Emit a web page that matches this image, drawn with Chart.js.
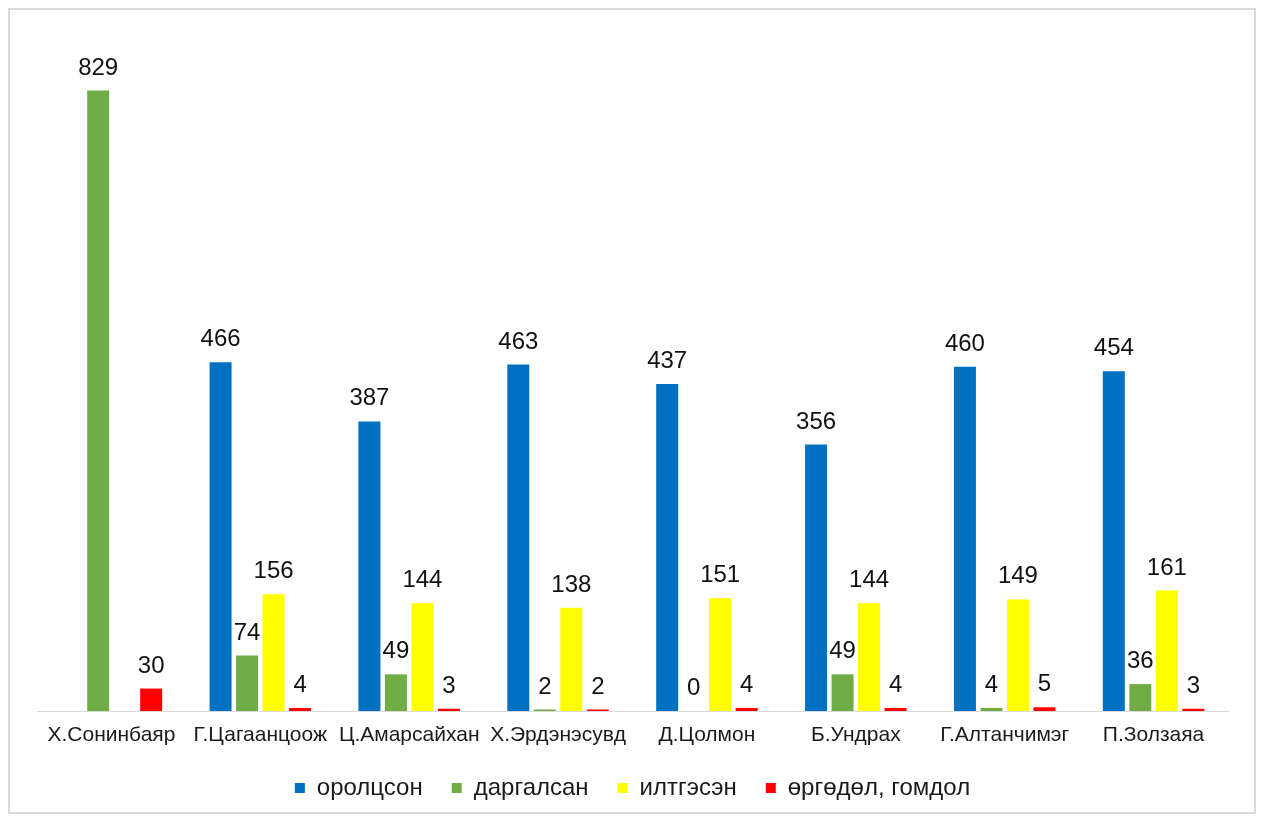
<!DOCTYPE html>
<html lang="mn">
<head>
  <meta charset="UTF-8" />
  <title>Chart</title>
  <script src="https://cdn.jsdelivr.net/npm/chart.js"></script>
  <style>
    html, body { margin: 0; padding: 0; background: #fff; }
    #wrap { width: 1261px; height: 818px; }
  </style>
</head>
<body>
  <div id="wrap"><canvas id="chart" width="1261" height="818"></canvas></div>

  <script>
    // category names
    const names = ['Х.Сонинбаяр', 'Г.Цагаанцоож', 'Ц.Амарсайхан', 'Х.Эрдэнэсувд',
                   'Д.Цолмон', 'Б.Ундрах', 'Г.Алтанчимэг', 'П.Золзаяа'];

    // series values
    const orolcson = [null, 466, 387, 463, 437, 356, 460, 454];
    const dargalsan = [829, 74, 49, 2, 0, 49, 4, 36];
    const iltgesen = [null, 156, 144, 138, 151, 144, 149, 161];
    const urgudul = [30, 4, 3, 2, 4, 4, 5, 3];

    const FONT = '"Liberation Sans", Arial, sans-serif';

    // frame around the whole picture
    const framePlugin = {
      id: 'frame',
      beforeDraw(chart) {
        const c = chart.ctx;
        c.save();
        c.fillStyle = '#fff';
        c.fillRect(0, 0, chart.width, chart.height);
        c.strokeStyle = '#d9d9d9';
        c.lineWidth = 2;
        c.strokeRect(9, 9, 1246, 804);
        c.restore();
      }
    };

    // value labels above the bars
    const valueLabels = {
      id: 'valueLabels',
      afterDatasetsDraw(chart) {
        const c = chart.ctx;
        c.save();
        c.font = '24px ' + FONT;
        c.fillStyle = '#111';
        c.textAlign = 'center';
        c.textBaseline = 'alphabetic';
        chart.data.datasets.forEach((ds, i) => {
          const meta = chart.getDatasetMeta(i);
          meta.data.forEach((bar, j) => {
            const v = ds.data[j];
            if (v === null || v === undefined) return;
            c.fillText(String(v), bar.x, bar.y - 16);
          });
        });
        c.restore();
      }
    };

    new Chart(document.getElementById('chart'), {
      type: 'bar',
      data: {
        labels: names,
        datasets: [
          { label: 'оролцсон', data: orolcson, backgroundColor: '#0070C0' },
          { label: 'даргалсан', data: dargalsan, backgroundColor: '#70AD47' },
          { label: 'илтгэсэн', data: iltgesen, backgroundColor: '#FFFF00' },
          { label: 'өргөдөл, гомдол', data: urgudul, backgroundColor: '#FF0000' }
        ]
      },
      options: {
        responsive: false,
        animation: false,
        devicePixelRatio: 1,
        datasets: {
          bar: { categoryPercentage: 0.712, barPercentage: 0.83 }
        },
        layout: { padding: { left: 37, right: 33, top: 30, bottom: 8 } },
        scales: {
          x: {
            grid: { display: false, drawTicks: false },
            border: { display: true, color: '#d9d9d9', width: 1 },
            ticks: { padding: 12, color: '#1a1a1a', font: { family: FONT, size: 21 }, maxRotation: 0, autoSkip: false },
            afterFit(scale) { scale.height = 36; }
          },
          y: { display: false, min: 0, max: 910 }
        },
        plugins: {
          tooltip: { enabled: false },
          legend: {
            position: 'bottom',
            labels: {
              boxWidth: 10, boxHeight: 10, padding: 29,
              color: '#1a1a1a',
              font: { family: FONT, size: 24 }
            }
          }
        }
      },
      plugins: [framePlugin, valueLabels]
    });
  </script>
</body>
</html>
